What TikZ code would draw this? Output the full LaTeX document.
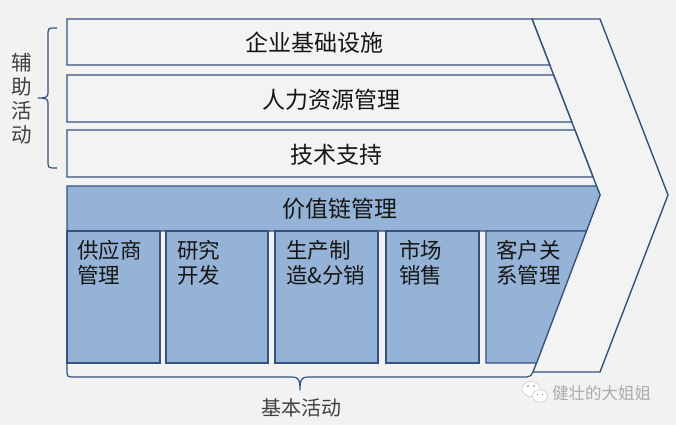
\documentclass[tikz,border=0pt]{standalone}
\usepackage{fontspec}
\setmainfont{Noto Sans CJK SC}
\definecolor{bg}{HTML}{F2F2F2}
\definecolor{boxbg}{HTML}{F3F3F3}
\definecolor{bluef}{HTML}{95B3D7}
\definecolor{edge}{HTML}{34527D}
\definecolor{txt}{HTML}{151515}
\definecolor{lbl}{HTML}{404040}
\definecolor{wm}{HTML}{ABABAB}
\begin{document}
\begin{tikzpicture}[x=1pt,y=-1pt,
  box/.style={fill=boxbg,draw=edge,line width=1.4pt,line join=miter},
  bluebox/.style={fill=bluef,draw=edge,line width=1.2pt,line join=miter},
  maintext/.style={font=\fontsize{23}{26}\selectfont,text=txt,inner sep=0pt},
  coltext/.style={font=\fontsize{21.5}{25}\selectfont,text=txt,inner sep=0pt,anchor=west},
  lbltext/.style={text=lbl,inner sep=0pt},
  bracepath/.style={draw=edge,line width=1.2pt,line join=round}]
\fill[bg] (0,0) rectangle (676,425);
\useasboundingbox (0,0) rectangle (676,425);
% big chevron
\draw[box] (532,19) -- (600,19) -- (668,195) -- (600,372) -- (533,372) -- (600,195) -- cycle;
% support activities
\draw[box] (67,19) -- (532,19) -- (549.8,65) -- (67,65) -- cycle;
\draw[box] (67,75) -- (553.6,75) -- (571.8,122) -- (67,122) -- cycle;
\draw[box] (67,130) -- (574.9,130) -- (593,177) -- (67,177) -- cycle;
% value chain header
\draw[bluebox] (67,186) -- (596.5,186) -- (600,195) -- (586.4,231) -- (67,231) -- cycle;
% primary columns
\draw[bluebox] (67,231) rectangle (160,363);
\draw[bluebox] (166,231) rectangle (268,363);
\draw[bluebox] (275,231) rectangle (378,363);
\draw[bluebox] (386,231) rectangle (479,363);
\draw[bluebox] (486,231) -- (586.4,231) -- (536.5,363) -- (486,363) -- cycle;
% bottom brace
\draw[bracepath] (67,362) -- (67,373) .. controls (67,376) and (68,377) .. (71,377) -- (292,377) .. controls (298,377) and (300,379) .. (300,390) .. controls (300,379) and (302,377) .. (308,377) -- (527,377) .. controls (530,377) and (532,375) .. (533,372);
% left brace
\draw[bracepath] (57,28) -- (52,28) .. controls (49,28) and (48,29) .. (48,32) -- (48,93) .. controls (48,97) and (46,98) .. (38,98) .. controls (46,98) and (48,99) .. (48,103) -- (48,164) .. controls (48,167) and (49,168) .. (52,168) -- (57,168);
% texts
\node[maintext] (infra) at (314.5,43) {企业基础设施};
\node[maintext] (hr) at (331.5,100) {人力资源管理};
\node[maintext] (tech) at (336.5,155) {技术支持};
\node[maintext] (vcm) at (340,209) {价值链管理};
\node[coltext] (c1a) at (77,250) {供应商};
\node[coltext] (c1b) at (77,275) {管理};
\node[coltext] (c2a) at (177,250) {研究};
\node[coltext] (c2b) at (177,275) {开发};
\node[coltext] (c3a) at (286,250) {生产制};
\node[coltext] (c3b) at (286,275) {造\&分销};
\node[coltext] (c4a) at (399,250) {市场};
\node[coltext] (c4b) at (399,275) {销售};
\node[coltext] (c5a) at (496,250) {客户关};
\node[coltext] (c5b) at (496,275) {系管理};
\node[lbltext,font=\fontsize{20.5}{24}\selectfont,align=center] (support) at (22,99) {辅\\助\\活\\动};
\node[lbltext,font=\fontsize{20}{24}\selectfont] (primary) at (301,408) {基本活动};
% watermark
\draw[draw=wm!60,fill=white,line width=0.6pt] (531,389) ellipse [x radius=9,y radius=7.5];
\draw[draw=wm!60,fill=white,line width=0.6pt] (540,396) ellipse [x radius=7.5,y radius=6.3];
\fill[wm] (528,386) circle (1.1) (534,386) circle (1.1) (537.5,394.5) circle (0.9) (542.5,394.5) circle (0.9);
\node[font=\fontsize{16.5}{18}\selectfont,text=wm,inner sep=0pt,anchor=west] (wmtext) at (552,393) {健壮的大姐姐};
\end{tikzpicture}
\end{document}
